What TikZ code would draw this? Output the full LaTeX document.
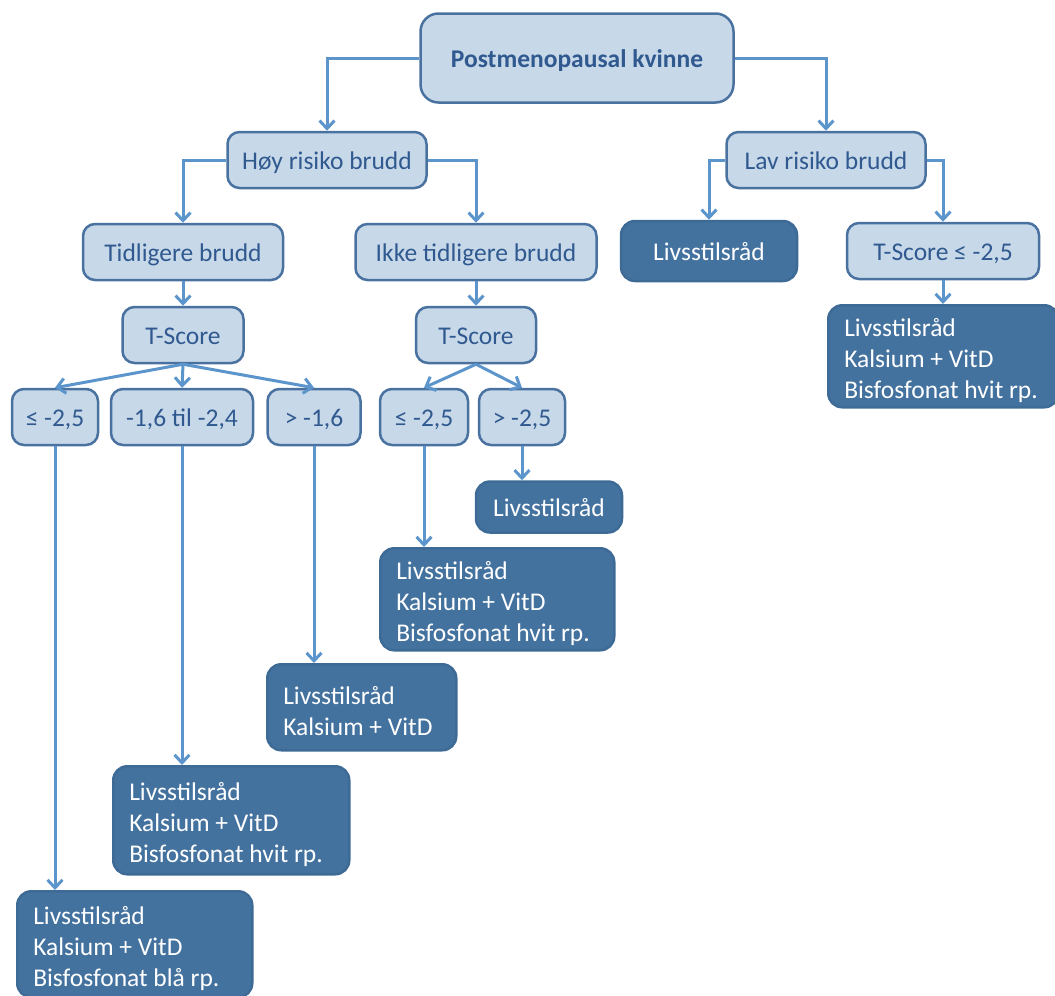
\documentclass[tikz,border=0pt]{standalone}
\usepackage{fontspec}
\setmainfont{Carlito}
\usetikzlibrary{positioning, arrows.meta}
\definecolor{lightfill}{HTML}{C7D8E9}
\definecolor{edgeblue}{HTML}{4A72A0}
\definecolor{textblue}{HTML}{30598F}
\definecolor{darkfill}{HTML}{44729F}
\definecolor{darkedge}{HTML}{3E6A96}
\definecolor{linkblue}{HTML}{5C95CB}
\newcommand\mainfs{\fontsize{25.5}{31}\selectfont}
\tikzset{
  lightbox/.style={draw=edgeblue, fill=lightfill, line width=2.5pt, rounded corners=12pt, text=textblue, minimum height=56pt, font=\mainfs, inner sep=0pt, text height=21pt, text depth=2pt},
  darkbox/.style={draw=darkedge, fill=darkfill, line width=2.5pt, rounded corners=14pt, text=white, font=\mainfs, inner sep=0pt},
  single/.style={darkbox, text height=21pt, text depth=2pt},
  advice/.style={darkbox, align=flush left, anchor=north west, inner xsep=16pt, execute at begin node={\rule{0pt}{26pt}}},
  link/.style={draw=linkblue, line width=3pt, -{Straight Barb[length=8pt,width=15pt,line width=3pt]}},
}

\begin{document}
\begin{tikzpicture}[x=1pt, y=-1pt]
    \clip (0,0) rectangle (1055,996);
    % top level
    \node[lightbox, font=\mainfs\bfseries, minimum width=313pt, minimum height=89pt, rounded corners=18pt] (root) at (577,58) {Postmenopausal kvinne};
    \node[lightbox, minimum width=199pt] (hoy) at (327,160) {Høy risiko brudd};
    \node[lightbox, minimum width=199pt] (lav) at (826,160) {Lav risiko brudd};
    % second level
    \node[lightbox, minimum width=200pt] (tidl) at (183,252) {Tidligere brudd};
    \node[lightbox, minimum width=241pt] (ikke) at (476,252) {Ikke tidligere brudd};
    \node[single, minimum width=176pt, minimum height=60pt] (livsA) at (709,251) {Livsstilsråd};
    \node[lightbox, minimum width=192pt] (tlav) at (943,251) {T-Score ≤ -2,5};
    \node[advice, minimum height=102pt, text width=198pt] (dkR) at (827,304) {Livsstilsråd\\Kalsium + VitD\\Bisfosfonat hvit rp.};
    % T-scores
    \node[lightbox, minimum width=121pt] (ts1) at (183,335) {T-Score};
    \node[lightbox, minimum width=120pt] (ts2) at (476,335) {T-Score};
    \node[lightbox, minimum width=86pt] (le1) at (55,417) {≤ -2,5};
    \node[lightbox, minimum width=142pt] (mid) at (182,417) {-1,6 til -2,4};
    \node[lightbox, minimum width=93pt] (gt1) at (314,417) {> -1,6};
    \node[lightbox, minimum width=88pt] (le2) at (424,417) {≤ -2,5};
    \node[lightbox, minimum width=86pt] (gt2) at (522,417) {> -2,5};
    % advice
    \node[single, minimum width=146pt, minimum height=51pt] (livsB) at (549,507) {Livsstilsråd};
    \node[advice, minimum height=102pt, text width=202pt] (dkA) at (379,547) {Livsstilsråd\\Kalsium + VitD\\Bisfosfonat hvit rp.};
    \node[advice, minimum height=86pt, text width=157pt] (dkB) at (266,663) {Livsstilsråd\\Kalsium + VitD};
    \node[advice, minimum height=108pt, text width=204pt] (dkC) at (112,765) {Livsstilsråd\\Kalsium + VitD\\Bisfosfonat hvit rp.};
    \node[advice, minimum height=106pt, text width=203pt] (dkD) at (16,890) {Livsstilsråd\\Kalsium + VitD\\Bisfosfonat blå rp.};
    % connectors
    \draw[link] (root.west) -| (hoy.north);
    \draw[link] (root.east) -| (lav.north);
    \draw[link] (hoy.west) -| (tidl.north);
    \draw[link] (hoy.east) -| (ikke.north);
    \draw[link] (lav.west) -| (livsA.north);
    \draw[link] (lav.east) -| (tlav.north);
    \draw[link] (tidl) -- (ts1);
    \draw[link] (ikke) -- (ts2);
    \draw[link] (tlav.south) -- (tlav.south |- dkR.north);
    \draw[link] (ts1.south) -- (le1.north);
    \draw[link] (ts1.south) -- (mid.north);
    \draw[link] (ts1.south) -- (gt1.north);
    \draw[link] (ts2.south) -- (le2.north);
    \draw[link] (ts2.south) -- (gt2.north);
    \draw[link] (le1.south) -- (le1.south |- dkD.north);
    \draw[link] (mid.south) -- (mid.south |- dkC.north);
    \draw[link] (gt1.south) -- (gt1.south |- dkB.north);
    \draw[link] (le2.south) -- (le2.south |- dkA.north);
    \draw[link] (gt2.south) -- (gt2.south |- livsB.north);
  \end{tikzpicture}
\end{document}
